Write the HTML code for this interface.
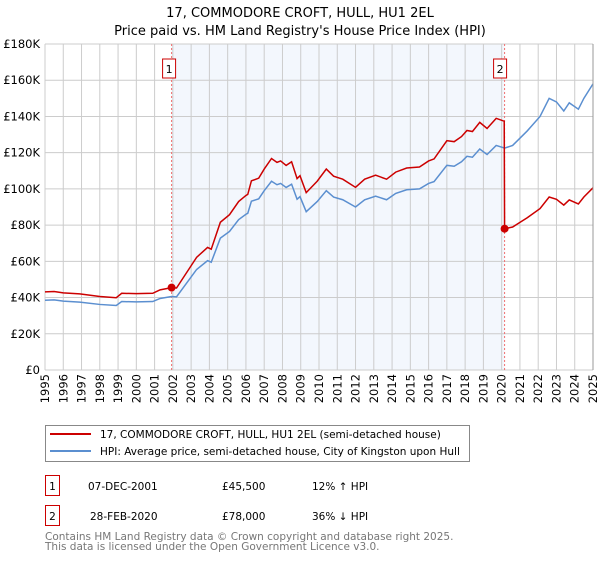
<!DOCTYPE html>
<html><head><meta charset="utf-8"><style>
body{margin:0;background:#fff;font-family:"DejaVu Sans","Liberation Sans",sans-serif;}
svg text{font-family:"DejaVu Sans","Liberation Sans",sans-serif;}
</style></head><body>
<svg id="chart" width="600" height="560" xmlns="http://www.w3.org/2000/svg">
<text x="300" y="17" text-anchor="middle" font-size="13">17, COMMODORE CROFT, HULL, HU1 2EL</text>
<text x="300" y="35" text-anchor="middle" font-size="13">Price paid vs. HM Land Registry's House Price Index (HPI)</text>
<g id="plot"></g>
<g>
<rect x="45.5" y="425.5" width="424" height="36" fill="#fff" stroke="#888"/>
<line x1="50" y1="434" x2="91" y2="434" stroke="#cc0000" stroke-width="2"/>
<text x="100" y="438" font-size="10.5">17, COMMODORE CROFT, HULL, HU1 2EL (semi-detached house)</text>
<line x1="50" y1="451" x2="91" y2="451" stroke="#5b8fd0" stroke-width="2"/>
<text x="100" y="455" font-size="10.5">HPI: Average price, semi-detached house, City of Kingston upon Hull</text>
</g>
<g font-size="10.5">
<rect x="45.5" y="475.5" width="14" height="20" fill="#fff" stroke="#cc0000"/>
<text x="52.5" y="490" text-anchor="middle">1</text>
<text x="88" y="490">07-DEC-2001</text><text x="222" y="490">£45,500</text><text x="312" y="490">12% ↑ HPI</text>
<rect x="45.5" y="505.5" width="14" height="20" fill="#fff" stroke="#cc0000"/>
<text x="52.5" y="520" text-anchor="middle">2</text>
<text x="90" y="520">28-FEB-2020</text><text x="222" y="520">£78,000</text><text x="312" y="520">36% ↓ HPI</text>
</g>
<text x="45" y="540" font-size="10.5" fill="#777">Contains HM Land Registry data © Crown copyright and database right 2025.</text>
<text x="45" y="550" font-size="10.5" fill="#777">This data is licensed under the Open Government Licence v3.0.</text>
</svg>
<script>
const hpiYears=[1995.0,1995.5,1996.0,1996.9,1998.0,1998.9,1999.2,2000.0,2000.9,2001.3,2001.93,2002.2,2002.9,2003.3,2003.9,2004.1,2004.6,2005.1,2005.6,2006.0,2006.1,2006.3,2006.7,2007.0,2007.4,2007.7,2007.9,2008.2,2008.5,2008.8,2008.96,2009.3,2009.9,2010.4,2010.8,2011.3,2012.0,2012.5,2013.1,2013.7,2014.2,2014.8,2015.5,2016.0,2016.3,2017.0,2017.4,2017.8,2018.1,2018.4,2018.8,2019.2,2019.7,2020.16,2020.6,2021.0,2021.4,2022.1,2022.6,2023.0,2023.4,2023.7,2024.2,2024.5,2025.0];
const hpiValues=[38.5,38.7,38.0,37.5,36.2,35.6,37.8,37.6,37.8,39.5,40.6,40.4,50.0,55.5,60.4,59.5,72.8,76.5,83.0,86.0,86.5,93.2,94.5,99.0,104.2,102.3,103.0,100.8,102.6,94.3,95.7,87.4,93.0,99.0,95.5,94.0,90.0,94.0,96.0,94.0,97.5,99.5,100.0,103.0,104.0,113.0,112.5,115.0,118.0,117.5,122.0,119.0,124.0,122.5,124.0,128.0,132.0,140.0,150.0,148.0,143.0,147.5,144.0,150.0,158.0];
const saleYears=[2001.93,2020.16];
const salePrices=[45.5,78.0];
const yTicks=[0,20,40,60,80,100,120,140,160,180];
const yTickLabels=["£0","£20K","£40K","£60K","£80K","£100K","£120K","£140K","£160K","£180K"];
const xTicks=[1995,1996,1997,1998,1999,2000,2001,2002,2003,2004,2005,2006,2007,2008,2009,2010,2011,2012,2013,2014,2015,2016,2017,2018,2019,2020,2021,2022,2023,2024,2025];

const X0=45,X1=593,Y0=370,Y1=44;
const xs=y=>X0+(y-1995)/30*(X1-X0);
const ys=v=>Y0-v/180*(Y0-Y1);
const NS="http://www.w3.org/2000/svg";
const plot=document.getElementById('plot');
function mk(t,a,p){const e=document.createElementNS(NS,t);for(const k in a)e.setAttribute(k,a[k]);(p||plot).appendChild(e);return e;}
function hpiAt(t){for(let i=0;i<hpiYears.length-1;i++){if(t<=hpiYears[i+1]){const f=(t-hpiYears[i])/(hpiYears[i+1]-hpiYears[i]);return hpiValues[i]+f*(hpiValues[i+1]-hpiValues[i]);}}return hpiValues[hpiValues.length-1];}

const shade=mk('rect',{x:xs(saleYears[0]),y:Y1,width:xs(saleYears[1])-xs(saleYears[0]),height:Y0-Y1,fill:'#eef3fc',opacity:0.7});


yTicks.forEach((v,i)=>{
 const l=mk('line',{x1:X0,x2:X1,y1:ys(v),y2:ys(v),stroke:'#ccc','stroke-width':1});
 
 
 const t=mk('text',{x:X0-5,y:ys(v)+4,'text-anchor':'end','font-size':'11.5'});
 
 
 t.textContent=yTickLabels[i];
});
xTicks.forEach(yr=>{
 const l=mk('line',{x1:xs(yr),x2:xs(yr),y1:Y1,y2:Y0,stroke:'#ccc','stroke-width':1});
 
 
 const t=mk('text',{x:0,y:0,'text-anchor':'end','font-size':'11.5',transform:`translate(${xs(yr)+4},374) rotate(-90)`});
 
 
 t.textContent=yr;
});
saleYears.forEach((sy,i)=>{
 const l=mk('line',{x1:xs(sy),x2:xs(sy),y1:Y1,y2:Y0,stroke:'#f07070','stroke-dasharray':'2,2'});
 
 
 const bx=xs(sy)-(i==0?9:11);
 const r=mk('rect',{x:bx,y:59,width:13,height:19,fill:'#fff',stroke:'#cc0000'});
 
 
 const t=mk('text',{x:bx+6.5,y:73,'text-anchor':'middle','font-size':'11'});
 
 
 t.textContent=i+1;
});
// HPI line
const hp=mk('polyline',{points:hpiYears.map((y,i)=>xs(y)+','+ys(hpiValues[i])).join(' '),fill:'none',stroke:'#5b8fd0','stroke-width':1.5});


// Price line: HPI scaled by sale price ratio in each ownership period
const pts=[];
const r0=salePrices[0]/hpiAt(saleYears[0]),r1=salePrices[1]/hpiAt(saleYears[1]);
hpiYears.forEach((y,i)=>{ if(y<saleYears[1]) pts.push([y,hpiValues[i]*r0]); });
pts.push([saleYears[1]-0.02,hpiAt(saleYears[1]-0.02)*r0]);
pts.push([saleYears[1],salePrices[1]]);
hpiYears.forEach((y,i)=>{ if(y>saleYears[1]) pts.push([y,hpiValues[i]*r1]); });
const pp=mk('polyline',{points:pts.map(p=>xs(p[0])+','+ys(p[1])).join(' '),fill:'none',stroke:'#cc0000','stroke-width':1.5});


saleYears.forEach((sy,i)=>{
 const c=mk('circle',{cx:xs(sy),cy:ys(salePrices[i]),r:4,fill:'#cc0000'});
 
 
});
const ax=mk('line',{x1:X1,x2:X1,y1:Y1,y2:Y0,stroke:'#999'});


</script>
</body></html>
